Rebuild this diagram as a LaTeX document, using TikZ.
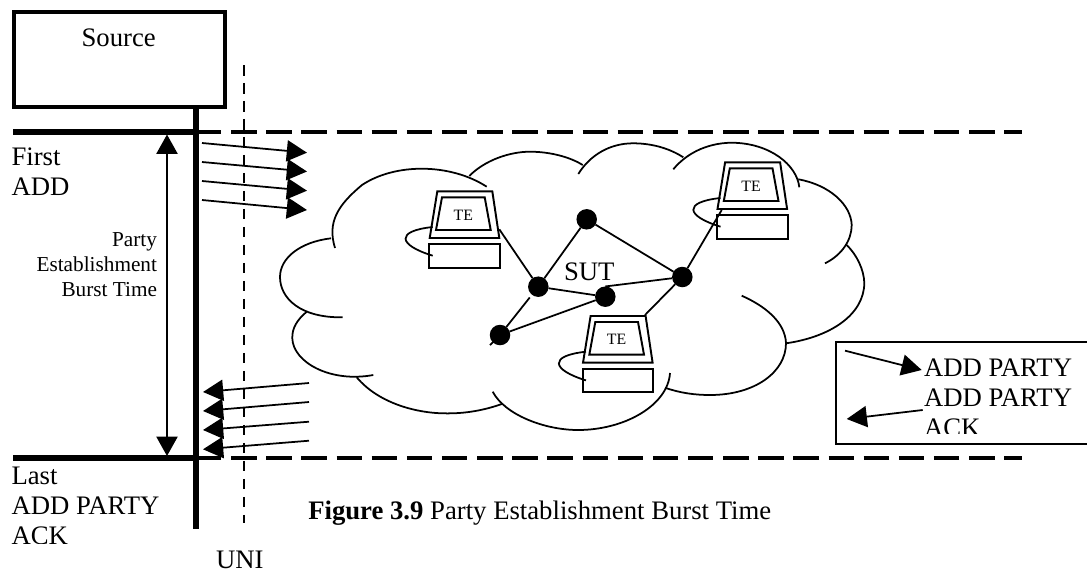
\documentclass[tikz,border=0pt]{standalone}
\usepackage{fontspec}
\setmainfont{Liberation Serif}
\usetikzlibrary{positioning,calc,arrows.meta}

\tikzset{
    heavy/.style={line width=3pt},
    longdash/.style={line width=2.2pt, dash pattern=on 14.5pt off 5.5pt},
    unidash/.style={line width=1.5pt, dash pattern=on 6pt off 4.24pt},
    burst/.style={line width=1pt, -{Triangle[length=11.5pt,width=12pt]}},
    span/.style={line width=1pt, {Triangle[length=11pt,width=12pt]}-{Triangle[length=11pt,width=12pt]}},
    cloudline/.style={line width=1pt},
    link/.style={line width=1pt},
    hop/.style={circle, fill=black, inner sep=0pt, outer sep=0pt, minimum size=0.41cm},
    crt/.style={line width=1.1pt},
    lab/.style={inner sep=0pt, outer sep=0pt, anchor=base west, font=\fontsize{15.2}{17}\selectfont},
    smalllab/.style={inner sep=0pt, outer sep=0pt, font=\fontsize{12.1}{14.2}\selectfont}
}

\begin{document}
\begin{tikzpicture}[x=0.02cm, y=-0.02cm]
    \useasboundingbox (0, 0) rectangle (1087, 572);

    % Source and time lines
    \node [draw, line width=2.2pt, inner sep=0pt, outer sep=0pt, minimum width=4.23cm, minimum height=1.9cm] (source) at (119.5, 59.5) {};
    \node [lab, anchor=base] (sourcetext) at (118.7, 46.7) {Source};
    \coordinate (mainbot) at (196, 529);
    \draw [heavy] (source.south -| mainbot) -- (mainbot);
    \coordinate (firstl) at (13, 132);
    \coordinate (firstm) at (196, 132);
    \coordinate (firstr) at (1022, 132);
    \coordinate (lastl) at (13, 458);
    \coordinate (lastm) at (196, 458);
    \coordinate (lastr) at (1022, 458);
    \draw [heavy] (firstl) -- (firstm);
    \draw [longdash] (firstm) -- (firstr);
    \draw [heavy] (lastl) -- (lastm);
    \draw [longdash] (lastm) -- (lastr);

    \coordinate (unitop) at (244, 65);
    \coordinate (unibot) at (244, 523);
    \draw [unidash] (unitop) -- (unibot);
    \node [lab] (uni) at (216, 568.3) {UNI};

    \coordinate (spantop) at (167, 134.5);
    \coordinate (spanbot) at (167, 456);
    \draw [span] (spantop) -- (spanbot);
    \node [smalllab, align=right, anchor=base east] (spanlab) at (157, 296.7) {Party\\Establishment\\Burst Time};

    % Message bursts
    \foreach \i/\ya/\yb in {1/143/152.7, 2/162/171.5, 3/181/190.7, 4/200/210} {
        \coordinate (adda\i) at (202, \ya);
        \coordinate (addb\i) at (307, \yb);
        \draw [burst] (adda\i) -- (addb\i);
    }
    \foreach \i/\ya/\yb in {1/383/392, 2/402/411, 3/421.7/430, 4/440.7/449.3} {
        \coordinate (acka\i) at (309, \ya);
        \coordinate (ackb\i) at (203, \yb);
        \draw [burst] (acka\i) -- (ackb\i);
    }

    \node [lab, align=left] (firstlab) at (11.5, 195.7) {First\\ADD};
    \begin{scope}
        \clip (0, 462) rectangle (190, 543.5);
        \node [lab, align=left] (lastlab) at (11.5, 544) {Last\\ADD PARTY\\ACK};
    \end{scope}

    % Cloud
    \draw [cloudline] (335,248) .. controls (327,222) and (338,205) .. (362,185) .. controls (395,163) and (450,163) .. (486.7,186.7);
    \draw [cloudline] (331,238.3) .. controls (300,242) and (280,258) .. (280,277) .. controls (280,298) and (300,318) .. (342.7,317.3);
    \draw [cloudline] (306.7,311.7) .. controls (297,320) and (292,328) .. (292.3,338.3) .. controls (293,362) and (330,383) .. (373.3,375);
    \draw [cloudline] (356.7,377.3) .. controls (380,405) and (420,413) .. (443,413.3) .. controls (465,414) and (485,410) .. (501.7,404);
    \draw [cloudline] (492.7,391.7) .. controls (505,415) and (545,430) .. (578,430) .. controls (625,430) and (668,405) .. (670,373);
    \draw [cloudline] (665,387.7) .. controls (680,393) and (695,395) .. (710,395) .. controls (755,395) and (786,372) .. (786,343) .. controls (785,322) and (765,306) .. (741.7,295.7);
    \draw [cloudline] (786,343.3) .. controls (830,337) and (864,315) .. (864.3,283) .. controls (864,270) and (857,255) .. (846.7,245);
    \draw [cloudline] (825,263.3) .. controls (842,255) and (851.7,240) .. (851.7,225) .. controls (851,205) and (830,185) .. (798.3,179.3);
    \draw [cloudline] (799.3,187.3) .. controls (797,165) and (770,143) .. (731.7,142.7) .. controls (705,143) and (685,155) .. (673.3,169.3);
    \draw [cloudline] (578.3,174) .. controls (590,155) and (610,143.3) .. (633,143.3) .. controls (655,143.3) and (672,150) .. (683.3,157.3);
    \draw [cloudline] (469.3,176) .. controls (485,160) and (510,151.7) .. (530,151.7) .. controls (550,151.7) and (570,157) .. (582.7,165);

    % Terminals
    \foreach \n/\dx/\dy in {a/0/0, b/153.3/124.7, c/287.8/-29} {
        \begin{scope}[shift={(\dx, \dy)}]
            \draw [crt] (437.3,191.3) -- (492.3,191.3) -- (499.3,238) -- (429.7,238) -- cycle;
            \draw [crt] (442,197.3) -- (484.7,197.3) -- (490.7,230) -- (436,230) -- cycle;
            \draw [crt] (429.3,244) rectangle (500,267.7);
            \draw [link] (432.7,227) .. controls (395,231) and (398,245) .. (432.7,255.7);
            \node [inner sep=0pt, outer sep=0pt, font=\fontsize{9}{11}\selectfont, anchor=base] (te\n) at (463.3, 220) {TE};
        \end{scope}
    }

    % Switches
    \node [lab] (sut) at (564, 280) {SUT};
    \node [hop] (hopa) at (586.7, 219.3) {};
    \node [hop] (hopb) at (538.3, 286.7) {};
    \node [hop] (hopc) at (500, 335) {};
    \node [hop] (hopd) at (605.3, 296.7) {};
    \node [hop] (hope) at (682.3, 277) {};
    \coordinate (hoptail) at (490, 345);
    \coordinate (portb) at (645, 315);
    \coordinate (porta) at (499.3, 229.3);
    \coordinate (portc) at (721.7, 210);
    \draw [link] (hopb) -- (hopa);
    \draw [link] (hopa) -- (hope);
    \draw [link] (hopb) -- (hopd);
    \draw [link] (hopd.north) -- (hope);
    \draw [link] (hopc) -- (hopd);
    \draw [link, shorten <=2pt] (hopb) -- (hopc);
    \draw [link] (hopc.center) -- (hoptail);
    \draw [link] (porta) -- (hopb);
    \draw [link] (portb) -- (hope);
    \draw [link] (portc) -- (hope);

    % Legend
    \coordinate (boxtr) at (1087, 341.7);
    \coordinate (boxtl) at (836, 341.7);
    \coordinate (boxbl) at (836, 444.3);
    \coordinate (boxbr) at (1087, 444.3);
    \draw [line width=1.1pt] (boxtr) -- (boxtl) -- (boxbl) -- (boxbr);
    \coordinate (keya) at (845, 350.7);
    \coordinate (keyb) at (921.7, 370);
    \coordinate (keyc) at (922.7, 410);
    \coordinate (keyd) at (846.7, 419);
    \draw [burst] (keya) -- (keyb);
    \draw [burst] (keyc) -- (keyd);
    \node [lab] (keyadd) at (924, 376.7) {ADD PARTY};
    \begin{scope}
        \clip (900, 380) rectangle (1087, 433);
        \node [lab, align=left] (keyack) at (924, 436.7) {ADD PARTY\\ACK};
    \end{scope}

    \node [lab] (caption) at (308.3, 519.3) {\textbf{Figure 3.9} Party Establishment Burst Time};
\end{tikzpicture}
\end{document}
